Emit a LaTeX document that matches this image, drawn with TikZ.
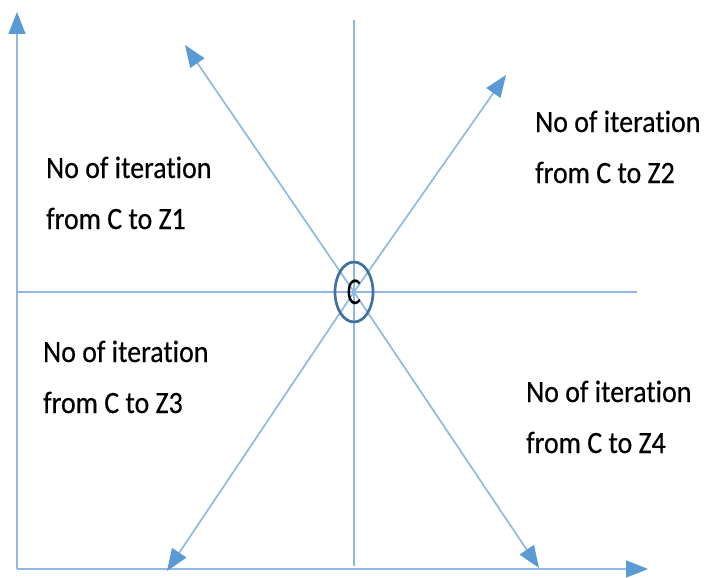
\documentclass[tikz,border=0pt]{standalone}
\usepackage{fontspec}
\setmainfont{Carlito}
\newfontfamily\zonefont[FakeStretch=0.9,FakeBold=0.4,Ligatures=NoCommon]{Carlito}
\newfontfamily\ringfont[FakeStretch=0.7]{Carlito}
\usetikzlibrary{arrows.meta,shapes.geometric}
\definecolor{axisblue}{HTML}{8FB9E2}
\definecolor{tipblue}{HTML}{5B9BD5}
\definecolor{ringblue}{HTML}{41719C}

\begin{document}
\begin{tikzpicture}[x=1pt,y=-1pt,
    ray/.style ={draw=axisblue, line width=1.7pt, -{Triangle[length=22pt,width=17pt,color=tipblue]}},
    guide/.style ={draw=axisblue, line width=1.6pt},
    zone/.style ={anchor=base west, align=left, inner sep=0pt, font=\zonefont\fontsize{31}{51}\selectfont},
    centre/.style ={ellipse, draw=ringblue, line width=2.7pt, minimum width=38pt, minimum height=60pt, inner sep=0pt, font=\ringfont\fontsize{38}{38}\selectfont}]
   \useasboundingbox (0,0) rectangle (705,578);
   \coordinate (O) at (17,569);
   \coordinate (Y) at (17,12);
   \coordinate (X) at (648,569);
   \coordinate (N) at (354,20);
   \coordinate (S) at (354,566);
   \coordinate (W) at (17,292);
   \coordinate (E) at (637,292);
   \coordinate (c) at (354,292);
   \coordinate (Z1) at (185,45);
   \coordinate (Z2) at (506,75);
   \coordinate (Z3) at (167,571);
   \coordinate (Z4) at (539,568);

   \draw[guide] (N) to (S);
   \draw[guide] (W) to (E);
   \draw[ray] (O) to (Y);
   \draw[ray] (O) to (X);
   \draw[ray] (c) to (Z1);
   \draw[ray] (c) to (Z2);
   \draw[ray] (c) to (Z3);
   \draw[ray] (c) to (Z4);

   \node[centre] (C) at (c) {C};

   \node[zone] (T1) at (46,229) {No of iteration\\from C to Z1};
   \node[zone] (T2) at (535,183) {No of iteration\\from C to Z2};
   \node[zone] (T3) at (43,413) {No of iteration\\from C to Z3};
   \node[zone] (T4) at (526,453) {No of iteration\\from C to Z4};
 \end{tikzpicture}
\end{document}
